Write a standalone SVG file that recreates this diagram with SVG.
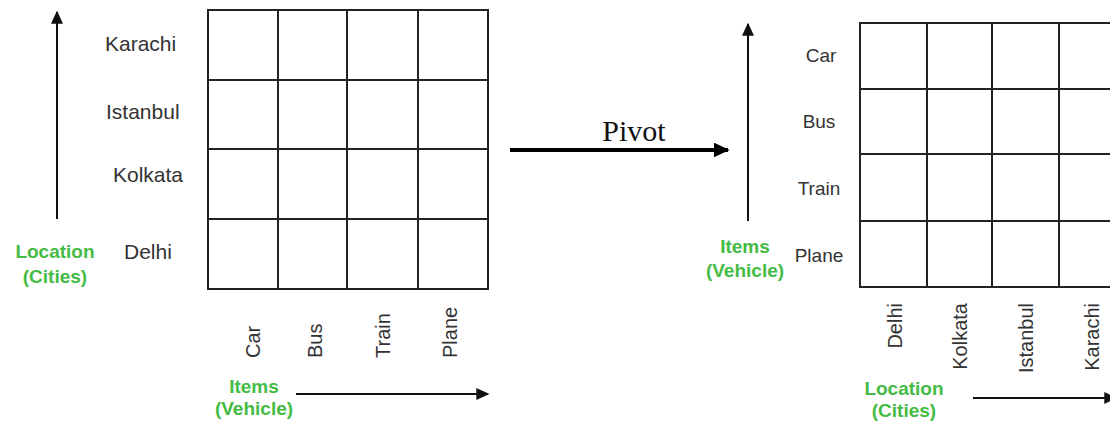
<svg xmlns="http://www.w3.org/2000/svg" width="1110" height="421" viewBox="0 0 1110 421">
  <defs>
    <marker id="head" viewBox="0 0 10 10" refX="9" refY="5" markerWidth="7" markerHeight="7" markerUnits="userSpaceOnUse" orient="auto">
      <path d="M0,0 L10,5 L0,10 Z" fill="#111"/>
    </marker>
    <marker id="headSmall" viewBox="0 0 10 10" refX="9" refY="5" markerWidth="13" markerHeight="12" markerUnits="userSpaceOnUse" orient="auto" preserveAspectRatio="none">
      <path d="M0,0 L10,5 L0,10 Z" fill="#111"/>
    </marker>
    <marker id="headBig" viewBox="0 0 10 10" refX="9" refY="5" markerWidth="16" markerHeight="15" markerUnits="userSpaceOnUse" orient="auto" preserveAspectRatio="none">
      <path d="M0,0 L10,5 L0,10 Z" fill="#000"/>
    </marker>
  </defs>
  <style>
    .grid { fill: none; stroke: #222; stroke-width: 2; }
    .lbl { font-family: "Liberation Sans", Arial, sans-serif; fill: #333; }
    .axis { font-family: "Liberation Sans", Arial, sans-serif; font-weight: bold; fill: #44bb44; text-anchor: middle; font-size: 19px; }
    .arrow { stroke: #111; stroke-width: 2; fill: none; }
  </style>
  <rect width="1110" height="421" fill="#fff"/>

  <!-- Table before pivot: cities by vehicles -->
  <g id="table-cities">
    <rect class="grid" x="208" y="10" width="280" height="279"/>
    <path class="grid" d="M278,10 V289 M347,10 V289 M418,10 V289 M208,80 H488 M208,149 H488 M208,219 H488"/>
  </g>
  <g id="row-labels-cities" class="lbl" font-size="21">
    <text x="105" y="51">Karachi</text>
    <text x="106" y="119">Istanbul</text>
    <text x="113" y="182">Kolkata</text>
    <text x="124" y="259">Delhi</text>
  </g>
  <g id="col-labels-vehicles" class="lbl" font-size="20">
    <text transform="translate(260,358) rotate(-90)">Car</text>
    <text transform="translate(322,358) rotate(-90)">Bus</text>
    <text transform="translate(390,358) rotate(-90)">Train</text>
    <text transform="translate(457,358) rotate(-90)">Plane</text>
  </g>
  <g id="axis-location-left" class="axis">
    <text x="55" y="258">Location</text>
    <text x="55" y="283">(Cities)</text>
  </g>
  <g id="axis-items-bottom" class="axis">
    <text x="254" y="393">Items</text>
    <text x="254" y="415">(Vehicle)</text>
  </g>

  <!-- Pivot label -->
  <g id="pivot">
    <text x="634" y="141" font-family="'Liberation Serif', 'Times New Roman', serif" font-size="30" fill="#111" text-anchor="middle">Pivot</text>
  </g>

  <!-- Table after pivot: vehicles by cities -->
  <g id="table-vehicles">
    <rect class="grid" x="860" y="23" width="266" height="264"/>
    <path class="grid" d="M927,23 V287 M992,23 V287 M1059,23 V287 M860,89 H1126 M860,154 H1126 M860,221 H1126"/>
  </g>
  <g id="row-labels-vehicles" class="lbl" font-size="19" text-anchor="middle">
    <text x="821" y="62">Car</text>
    <text x="819" y="128">Bus</text>
    <text x="819" y="195">Train</text>
    <text x="819" y="262">Plane</text>
  </g>
  <g id="col-labels-cities" class="lbl" font-size="20" text-anchor="end">
    <text transform="translate(902,303) rotate(-90)">Delhi</text>
    <text transform="translate(967,303) rotate(-90)">Kolkata</text>
    <text transform="translate(1033,303) rotate(-90)">Istanbul</text>
    <text transform="translate(1099,303) rotate(-90)">Karachi</text>
  </g>
  <g id="axis-items-right" class="axis">
    <text x="745" y="253">Items</text>
    <text x="745" y="277">(Vehicle)</text>
  </g>
  <g id="axis-location-bottom" class="axis">
    <text x="904" y="395">Location</text>
    <text x="904" y="417">(Cities)</text>
  </g>

  <!-- Connectors -->
  <g id="connectors">
    <line class="arrow" x1="57" y1="219" x2="57" y2="12" marker-end="url(#headSmall)"/>
    <line class="arrow" x1="296" y1="394" x2="488" y2="394" marker-end="url(#headSmall)"/>
    <line x1="510" y1="150" x2="728" y2="150" stroke="#000" stroke-width="4" marker-end="url(#headBig)"/>
    <line class="arrow" x1="748" y1="221" x2="748" y2="24" marker-end="url(#headSmall)"/>
    <line class="arrow" x1="973" y1="398" x2="1116" y2="398" marker-end="url(#headSmall)"/>
  </g>
</svg>
